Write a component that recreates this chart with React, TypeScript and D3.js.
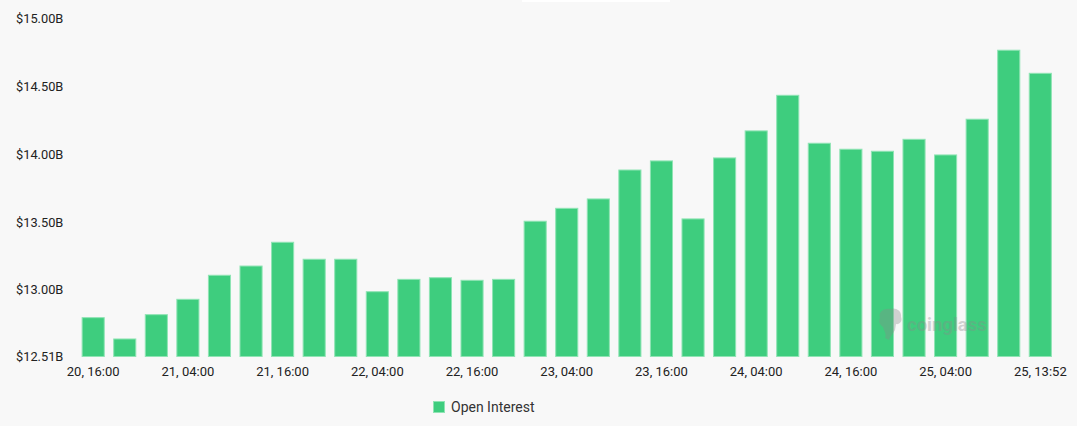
import { useEffect, useRef } from "react"
import * as d3 from "d3"

// time labels, one per 4h bar (last one is the live bar)
const categories = [
  "20, 16:00", "20, 20:00", "21, 00:00", "21, 04:00", "21, 08:00", "21, 12:00",
  "21, 16:00", "21, 20:00", "22, 00:00", "22, 04:00", "22, 08:00", "22, 12:00",
  "22, 16:00", "22, 20:00", "23, 00:00", "23, 04:00", "23, 08:00", "23, 12:00",
  "23, 16:00", "23, 20:00", "24, 00:00", "24, 04:00", "24, 08:00", "24, 12:00",
  "24, 16:00", "24, 20:00", "25, 00:00", "25, 04:00", "25, 08:00", "25, 12:00",
  "25, 13:52",
]

// open interest, billions USD
const openInterest = [
  12.796, 12.639, 12.818, 12.931, 13.108, 13.176, 13.351, 13.226, 13.226, 12.987,
  13.078, 13.09, 13.071, 13.078, 13.506, 13.601, 13.67, 13.883, 13.95, 13.523,
  13.972, 14.171, 14.433, 14.08, 14.036, 14.021, 14.109, 13.994, 14.257, 14.765,
  14.595,
]

const yTicks = [12.51, 13.0, 13.5, 14.0, 14.5, 15.0]
const xTickLabels = [
  "20, 16:00", "21, 04:00", "21, 16:00", "22, 04:00", "22, 16:00", "23, 04:00",
  "23, 16:00", "24, 04:00", "24, 16:00", "25, 04:00", "25, 13:52",
]

const W = 1077
const H = 426
const FONT = "Roboto, 'Noto Sans', sans-serif"
const GREEN = "#3ecd7e"

export default function App() {
  const svgRef = useRef<SVGSVGElement>(null)

  useEffect(() => {
    if (!svgRef.current) return
    const svg = d3.select(svgRef.current)
    svg.selectAll("*").remove()

    svg.append("rect").attr("width", W).attr("height", H).attr("fill", "#f8f8f8")
    // leftover tooltip strip at the top edge
    svg.append("rect").attr("x", 522).attr("y", 0).attr("width", 148).attr("height", 2).attr("fill", "#ffffff")

    const x = d3.scaleBand<string>()
      .domain(categories)
      .range([77.4, 1056.1])
      .paddingInner(0.3)
      .paddingOuter(0.15)

    const y = d3.scaleLinear()
      .domain([12.51, 15])
      .range([356.5, 18.3])

    // bars
    svg.append("g")
      .selectAll("rect")
      .data(openInterest)
      .enter().append("rect")
      .attr("x", (_, i) => x(categories[i])!)
      .attr("y", d => y(d))
      .attr("width", x.bandwidth())
      .attr("height", d => y(12.51) - y(d))
      .attr("fill", GREEN)
      .attr("stroke", "#8fe4b4")
      .attr("stroke-width", 1)

    // y axis labels
    svg.append("g")
      .selectAll("text")
      .data(yTicks)
      .enter().append("text")
      .attr("x", 16)
      .attr("y", d => y(d))
      .attr("dy", "0.35em")
      .attr("font-family", FONT)
      .attr("font-size", 12.8)
      .attr("fill", "#222")
      .text(d => `$${d.toFixed(2)}B`)

    // x axis labels
    svg.append("g")
      .selectAll("text")
      .data(xTickLabels)
      .enter().append("text")
      .attr("x", d => x(d)! + x.bandwidth() / 2)
      .attr("y", 371)
      .attr("dy", "0.35em")
      .attr("text-anchor", "middle")
      .attr("font-family", FONT)
      .attr("font-size", 13)
      .attr("fill", "#222")
      .text(d => d)

    // watermark
    const wm = svg.append("g").attr("opacity", 0.35).attr("fill", "#8a8a8a")
    wm.append("path")
      .attr("d", "M880,318 C878,312 884,308 890,309 C896,307 902,311 901,317 C903,321 899,325 896,324 L895,330 C893,334 890,336 889,340 L885,338 C887,334 884,331 883,327 C880,325 878,322 880,318 Z")
    wm.append("text")
      .attr("x", 907)
      .attr("y", 331)
      .attr("font-family", FONT)
      .attr("font-size", 18.5)
      .attr("font-weight", 700)
      .text("coinglass")

    // legend
    const lg = svg.append("g")
    lg.append("rect")
      .attr("x", 433.5).attr("y", 401.5).attr("width", 11).attr("height", 11)
      .attr("fill", GREEN).attr("stroke", "#8fe4b4").attr("stroke-width", 1)
    lg.append("text")
      .attr("x", 451)
      .attr("y", 407)
      .attr("dy", "0.35em")
      .attr("font-family", FONT)
      .attr("font-size", 14)
      .attr("fill", "#333")
      .text("Open Interest")
  }, [])

  return (
    <div style={{ position: "fixed", left: 0, top: 0, width: W, height: H }}>
      <svg ref={svgRef} width={W} height={H} />
    </div>
  )
}
